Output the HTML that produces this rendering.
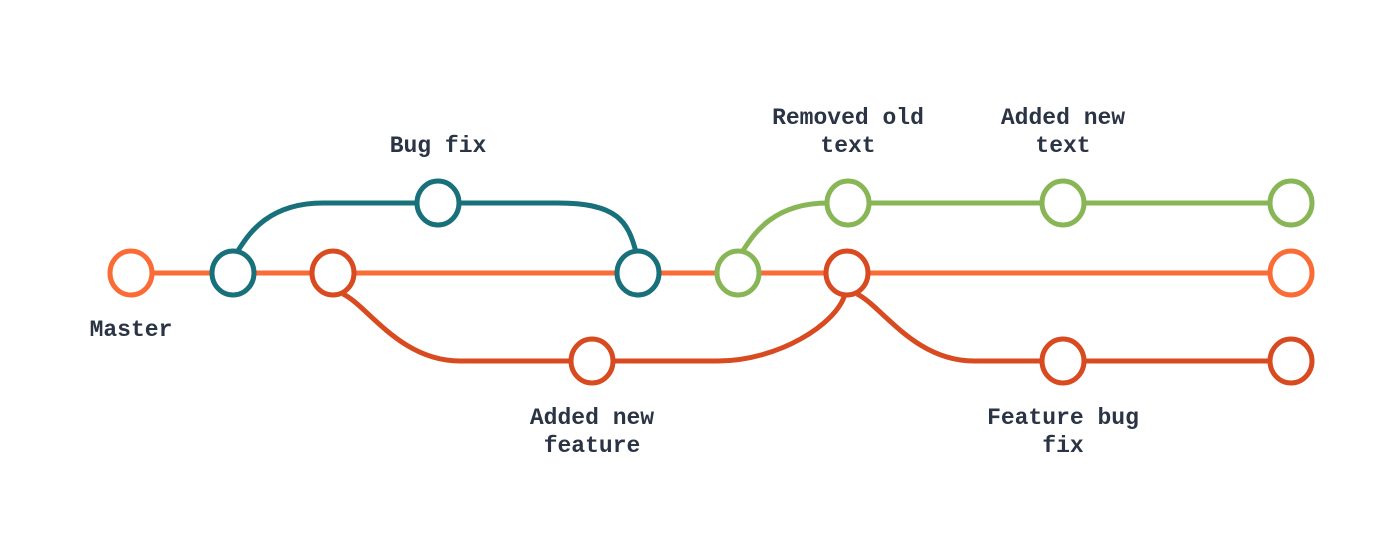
<!DOCTYPE html>
<html><head><meta charset="utf-8"><style>
html,body{margin:0;padding:0;background:#fff;}
svg{display:block;}
text{font-family:"Liberation Mono",monospace;font-weight:bold;font-size:23px;fill:#2b3445;text-anchor:middle;}
</style></head><body>
<svg id="chart" width="1400" height="560" viewBox="0 0 1400 560">
<g id="edges"></g><g id="nodes"></g><g id="labels"></g>
</svg>
<script>
// commit data: step position (x) and lane (0=top,1=master,2=bottom)
const commitX = [131, 233, 438, 638, 333, 592, 847, 1063, 1291, 738, 848, 1063, 1291, 1291];
const commitLane = [1, 1, 0, 1, 1, 2, 1, 2, 2, 1, 0, 0, 0, 1];
const commitBranch = ['master','bugfix','bugfix','bugfix','feature','feature','feature','feature','feature','text','text','text','text','master'];
const laneY = [203, 273, 361];
const colors = {master:'#fa6b36', bugfix:'#17707a', feature:'#d84a1f', text:'#88b656'};
// edges: [from index, to index, branch color]
const edges = [[0,13,'master'],[1,2,'bugfix'],[2,3,'bugfix'],[4,5,'feature'],[5,6,'feature'],[6,7,'feature'],[7,8,'feature'],[9,10,'text'],[10,11,'text'],[11,12,'text']];
const labelText = [['Master'],['Bug fix'],['Removed old','text'],['Added new','text'],['Added new','feature'],['Feature bug','fix']];
const labelCommit = [0, 2, 10, 11, 5, 7];
const labelAbove = [false, true, true, true, false, false];

const NS='http://www.w3.org/2000/svg';
const X=i=>commitX[i], Y=i=>laneY[commitLane[i]];
const eg=document.getElementById('edges'), ng=document.getElementById('nodes'), lg=document.getElementById('labels');
const R=21;
edges.forEach(([a,b,br],k)=>{
  const x1=X(a),y1=Y(a),x2=X(b),y2=Y(b);
  let d;
  if(y1===y2){d=`M${x1},${y1}L${x2},${y2}`;}
  else{
    const dir=y2>y1?1:-1, dy=Math.abs(y2-y1);
    if(commitLane[a]===1){
      const sx=x1+(dir>0?10:4), sy=y1+dir*R;
      const ex=sx+ (dy>80?117:86);
      d=`M${sx},${sy}C${sx+(dir>0?25:8)},${y2-dir*(dy>80?55:38)} ${ex-60},${y2} ${ex},${y2}L${x2},${y2}`;
    } else {
      const ex=x2-2;
      const sx=ex-(dy>80?127:78);
      const ey2=y2-dir*R;
      d=`M${x1},${y1}L${sx},${y1}C${sx+60},${y1} ${ex-8},${ey2+dir*(-30)} ${ex},${ey2}`;
    }
  }
  const p=document.createElementNS(NS,'path');
  p.setAttribute('d',d);p.setAttribute('fill','none');p.setAttribute('stroke',colors[br]);p.setAttribute('stroke-width','5');
  
  
  eg.appendChild(p);
});
commitX.forEach((x,i)=>{
  const c=document.createElementNS(NS,'ellipse');
  c.setAttribute('cx',x);c.setAttribute('cy',Y(i));c.setAttribute('rx',R);c.setAttribute('ry',22);
  c.setAttribute('fill','#fff');c.setAttribute('stroke',colors[commitBranch[i]]);c.setAttribute('stroke-width','5');
  
  
  ng.appendChild(c);
});
labelText.forEach((lines,k)=>{
  const i=labelCommit[k], x=X(i), y=Y(i);
  const t=document.createElementNS(NS,'text');
  
  
  const base = labelAbove[k] ? (lines.length===2? y-79 : y-51) : y+63;
  lines.forEach((ln,j)=>{
    const s=document.createElementNS(NS,'tspan');
    s.setAttribute('x',x);s.setAttribute('y',base+j*28);s.textContent=ln;
    t.appendChild(s);
  });
  lg.appendChild(t);
});
</script>
</body></html>
